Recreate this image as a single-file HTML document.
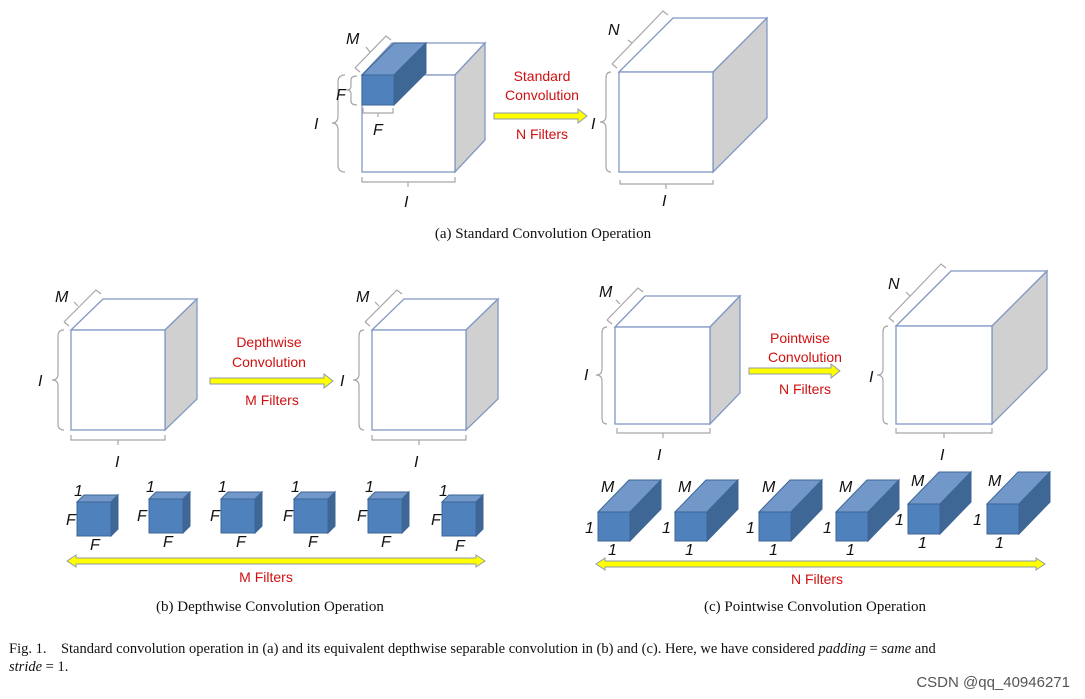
<!DOCTYPE html>
<html><head><meta charset="utf-8"><style>
html,body{margin:0;padding:0;background:#fff;}
svg{display:block;}
.c{fill:#fff;stroke:#8197c4;stroke-width:1.3;}
.g{fill:#d0d0d0;stroke:#8197c4;stroke-width:1.3;}
.bf{fill:#4f81bd;stroke:#3d6595;stroke-width:1;}
.bt{fill:#7198c9;stroke:#3d6595;stroke-width:1;}
.br{fill:#3f6795;stroke:#3d6595;stroke-width:1;}
.br2{fill:none;stroke:#a6a6a6;stroke-width:1.2;}
.l{font-family:"Liberation Sans",sans-serif;font-style:italic;font-size:16px;fill:#111;}
.r{font-family:"Liberation Sans",sans-serif;font-size:14px;fill:#d01010;text-anchor:middle;}
.cap{font-family:"Liberation Serif",serif;font-size:15px;fill:#111;text-anchor:middle;}
.ft{font-family:"Liberation Serif",serif;font-size:14.5px;fill:#111;}
.ar{fill:#ffff00;stroke:#8f9aaa;stroke-width:1;}
</style></head><body>
<svg width="1085" height="699" viewBox="0 0 1085 699" xmlns="http://www.w3.org/2000/svg">
<!-- (a) -->
<polygon class="c" points="362,75 392,43 485,43 455,75"/>
<polygon class="g" points="455,75 485,43 485,140 455,172"/>
<rect class="c" x="362" y="75" width="93" height="97"/>
<polygon class="bt" points="362,75 394,43 426,43 394,75"/>
<polygon class="br" points="394,75 426,43 426,73 394,105"/>
<rect class="bf" x="362" y="75" width="32" height="30"/>
<path class="br2" d="M345,75 Q338,75 338,82 L338,116 Q338,123 332,123 Q338,123 338,130 L338,165 Q338,172 345,172"/>
<path class="br2" d="M357,76 Q351,76 351,80 L351,86 Q351,90 347,90 Q351,90 351,94 L351,101 Q351,105 357,105"/>
<path class="br2" d="M363,108 L363,113 L393,113 L393,108 M378,113 L378,117"/>
<path class="br2" d="M362,177 L362,182 L455,182 L455,177 M408,182 L408,187"/>
<path class="br2" d="M355,68 L386,36 L391,40 M355,68 L360,72 M370,52 L366,47"/>
<text class="l" x="314" y="129">I</text>
<text class="l" x="336" y="100">F</text>
<text class="l" x="373" y="135">F</text>
<text class="l" x="404" y="207">I</text>
<text class="l" x="346" y="44">M</text>
<polygon class="ar" points="494,113 578,113 578,109 587,116 578,123 578,119 494,119"/>
<text class="r" x="542" y="81">Standard</text>
<text class="r" x="542" y="100">Convolution</text>
<text class="r" x="542" y="139">N Filters</text>
<polygon class="c" points="619,72 673,18 767,18 713,72"/>
<polygon class="g" points="713,72 767,18 767,118 713,172"/>
<rect class="c" x="619" y="72" width="94" height="100"/>
<path class="br2" d="M611,72 Q606,72 606,78 L606,116 Q606,122 600,122 Q606,122 606,128 L606,166 Q606,172 611,172"/>
<path class="br2" d="M620,180 L620,184 L713,184 L713,180 M666,184 L666,189"/>
<path class="br2" d="M612,64 L663,11 L668,15 M612,64 L617,68 M632,43 L628,40"/>
<text class="l" x="591" y="129">I</text>
<text class="l" x="662" y="206">I</text>
<text class="l" x="608" y="35">N</text>
<text class="cap" x="543" y="238">(a)  Standard Convolution Operation</text>

<!-- (b) -->
<polygon class="c" points="71,330 103,299 197,299 165,330"/>
<polygon class="g" points="165,330 197,299 197,399 165,430"/>
<rect class="c" x="71" y="330" width="94" height="100"/>
<path class="br2" d="M64,330 Q58,330 58,336 L58,374 Q58,380 52,380 Q58,380 58,386 L58,424 Q58,430 64,430"/>
<path class="br2" d="M71,435 L71,440 L165,440 L165,435 M118,440 L118,445"/>
<path class="br2" d="M64,322 L96,290 L101,294 M64,322 L69,326 M78,306 L74,302"/>
<text class="l" x="38" y="386">I</text>
<text class="l" x="115" y="467">I</text>
<text class="l" x="55" y="302">M</text>
<polygon class="c" points="372,330 404,299 498,299 466,330"/>
<polygon class="g" points="466,330 498,299 498,399 466,430"/>
<rect class="c" x="372" y="330" width="94" height="100"/>
<path class="br2" d="M364,330 Q359,330 359,336 L359,374 Q359,380 353,380 Q359,380 359,386 L359,424 Q359,430 364,430"/>
<path class="br2" d="M372,435 L372,440 L466,440 L466,435 M419,440 L419,445"/>
<path class="br2" d="M365,322 L397,290 L402,294 M365,322 L370,326 M379,306 L375,302"/>
<text class="l" x="340" y="386">I</text>
<text class="l" x="414" y="467">I</text>
<text class="l" x="356" y="302">M</text>
<polygon class="ar" points="210,378 324,378 324,374 333,381 324,388 324,384 210,384"/>
<text class="r" x="269" y="347">Depthwise</text>
<text class="r" x="269" y="367">Convolution</text>
<text class="r" x="272" y="405">M Filters</text>

<g>
<polygon class="bt" points="77,502 84,495 118,495 111,502"/><polygon class="br" points="111,502 118,495 118,529 111,536"/><rect class="bf" x="77" y="502" width="34" height="34"/>
<polygon class="bt" points="149,499 156,492 190,492 183,499"/><polygon class="br" points="183,499 190,492 190,526 183,533"/><rect class="bf" x="149" y="499" width="34" height="34"/>
<polygon class="bt" points="221,499 228,492 262,492 255,499"/><polygon class="br" points="255,499 262,492 262,526 255,533"/><rect class="bf" x="221" y="499" width="34" height="34"/>
<polygon class="bt" points="294,499 301,492 335,492 328,499"/><polygon class="br" points="328,499 335,492 335,526 328,533"/><rect class="bf" x="294" y="499" width="34" height="34"/>
<polygon class="bt" points="368,499 375,492 409,492 402,499"/><polygon class="br" points="402,499 409,492 409,526 402,533"/><rect class="bf" x="368" y="499" width="34" height="34"/>
<polygon class="bt" points="442,502 449,495 483,495 476,502"/><polygon class="br" points="476,502 483,495 483,529 476,536"/><rect class="bf" x="442" y="502" width="34" height="34"/>
</g>
<text class="l" x="74" y="496">1</text><text class="l" x="66" y="525">F</text><text class="l" x="90" y="550">F</text>
<text class="l" x="146" y="492">1</text><text class="l" x="137" y="521">F</text><text class="l" x="163" y="547">F</text>
<text class="l" x="218" y="492">1</text><text class="l" x="210" y="521">F</text><text class="l" x="236" y="547">F</text>
<text class="l" x="291" y="492">1</text><text class="l" x="283" y="521">F</text><text class="l" x="308" y="547">F</text>
<text class="l" x="365" y="492">1</text><text class="l" x="357" y="521">F</text><text class="l" x="381" y="547">F</text>
<text class="l" x="439" y="496">1</text><text class="l" x="431" y="525">F</text><text class="l" x="455" y="551">F</text>
<polygon class="ar" points="67,561 76,555 76,558 476,558 476,555 485,561 476,567 476,564 76,564 76,567"/>
<text class="r" x="266" y="582">M Filters</text>
<text class="cap" x="270" y="611">(b)  Depthwise Convolution Operation</text>

<!-- (c) -->
<polygon class="c" points="615,327 645,296 740,296 710,327"/>
<polygon class="g" points="710,327 740,296 740,393 710,424"/>
<rect class="c" x="615" y="327" width="95" height="97"/>
<path class="br2" d="M607,327 Q602,327 602,333 L602,369 Q602,375 596,375 Q602,375 602,381 L602,418 Q602,424 607,424"/>
<path class="br2" d="M617,428 L617,433 L710,433 L710,428 M663,433 L663,438"/>
<path class="br2" d="M607,320 L638,288 L643,292 M607,320 L612,324 M620,304 L616,300"/>
<text class="l" x="584" y="380">I</text>
<text class="l" x="657" y="460">I</text>
<text class="l" x="599" y="297">M</text>
<polygon class="ar" points="749,368 831,368 831,364 840,371 831,378 831,374 749,374"/>
<text class="r" x="800" y="343">Pointwise</text>
<text class="r" x="805" y="362">Convolution</text>
<text class="r" x="805" y="394">N Filters</text>
<polygon class="c" points="896,326 951,271 1047,271 992,326"/>
<polygon class="g" points="992,326 1047,271 1047,369 992,424"/>
<rect class="c" x="896" y="326" width="96" height="98"/>
<path class="br2" d="M888,326 Q883,326 883,332 L883,369 Q883,375 877,375 Q883,375 883,381 L883,418 Q883,424 888,424"/>
<path class="br2" d="M896,428 L896,433 L992,433 L992,428 M944,433 L944,438"/>
<path class="br2" d="M889,318 L941,264 L946,268 M889,318 L894,322 M910,296 L906,292"/>
<text class="l" x="869" y="382">I</text>
<text class="l" x="940" y="460">I</text>
<text class="l" x="888" y="289">N</text>

<g>
<polygon class="bt" points="598,512 629,480 661,480 630,512"/><polygon class="br" points="630,512 661,480 661,509 630,541"/><rect class="bf" x="598" y="512" width="32" height="29"/>
<polygon class="bt" points="675,512 706,480 738,480 707,512"/><polygon class="br" points="707,512 738,480 738,509 707,541"/><rect class="bf" x="675" y="512" width="32" height="29"/>
<polygon class="bt" points="759,512 790,480 822,480 791,512"/><polygon class="br" points="791,512 822,480 822,509 791,541"/><rect class="bf" x="759" y="512" width="32" height="29"/>
<polygon class="bt" points="836,512 867,480 899,480 868,512"/><polygon class="br" points="868,512 899,480 899,509 868,541"/><rect class="bf" x="836" y="512" width="32" height="29"/>
<polygon class="bt" points="908,504 939,472 971,472 940,504"/><polygon class="br" points="940,504 971,472 971,502 940,534"/><rect class="bf" x="908" y="504" width="32" height="30"/>
<polygon class="bt" points="987,504 1018,472 1050,472 1019,504"/><polygon class="br" points="1019,504 1050,472 1050,502 1019,534"/><rect class="bf" x="987" y="504" width="32" height="30"/>
</g>
<text class="l" x="601" y="492">M</text><text class="l" x="585" y="533">1</text><text class="l" x="608" y="555">1</text>
<text class="l" x="678" y="492">M</text><text class="l" x="662" y="533">1</text><text class="l" x="685" y="555">1</text>
<text class="l" x="762" y="492">M</text><text class="l" x="746" y="533">1</text><text class="l" x="769" y="555">1</text>
<text class="l" x="839" y="492">M</text><text class="l" x="823" y="533">1</text><text class="l" x="846" y="555">1</text>
<text class="l" x="911" y="486">M</text><text class="l" x="895" y="525">1</text><text class="l" x="918" y="548">1</text>
<text class="l" x="988" y="486">M</text><text class="l" x="973" y="525">1</text><text class="l" x="995" y="548">1</text>
<polygon class="ar" points="596,564 605,558 605,561 1036,561 1036,558 1045,564 1036,570 1036,567 605,567 605,570"/>
<text class="r" x="817" y="584">N Filters</text>
<text class="cap" x="815" y="611">(c)  Pointwise Convolution Operation</text>

<line x1="0" y1="628" x2="1085" y2="628" stroke="#eee" stroke-width="0"/>
<text class="ft" x="9" y="653">Fig. 1.&#160;&#160;&#160;&#160;Standard convolution operation in (a) and its equivalent depthwise separable convolution in (b) and (c). Here, we have considered <tspan font-style="italic">padding</tspan> = <tspan font-style="italic">same</tspan> and</text>
<text class="ft" x="9" y="671"><tspan font-style="italic">stride</tspan> = 1.</text>
<text x="1070" y="687" text-anchor="end" font-family="Liberation Sans, sans-serif" font-size="15" fill="#555">CSDN @qq_40946271</text>
</svg>
</body></html>
